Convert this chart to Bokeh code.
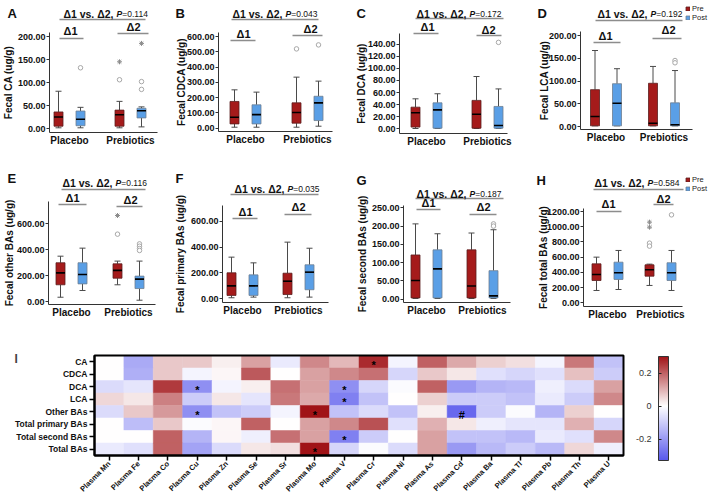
import math
import numpy as np
from bokeh.plotting import figure
from bokeh.layouts import row, column
from bokeh.models import (ColumnDataSource, FixedTicker, NumeralTickFormatter, Label, BoxAnnotation,
                          Legend, LegendItem, LinearColorMapper, Range1d)
from bokeh.transform import transform
from bokeh.core.properties import value
from bokeh.embed import file_html
from bokeh.resources import INLINE

FONT = "Liberation Sans"
RED = "#A51B1B"
BLUE = "#5A9FE6"

# ---------------- box-plot data ----------------
# each box: (whisker_low, q1, median, q3, whisker_high)
# order: Placebo-Pre, Placebo-Post, Prebiotics-Pre, Prebiotics-Post
groups = ["Placebo", "Prebiotics"]
phases = ["Pre", "Post"]

ca_box = [(1.5, 5, 25, 36, 81), (1.5, 6, 20, 38, 46), (1.5, 5, 30, 40, 59), (3.5, 23, 38.5, 44, 47)]
ca_out = [(1, 132, "o"), (2, 145, "*"), (2, 106, "o"), (3, 185, "*"), (3, 102, "o"), (3, 85, "o")]
cdca_box = [(6.5, 28, 72, 175, 251), (6.5, 28, 89, 153, 236), (6.5, 33, 103, 166, 334), (13, 50, 166, 209, 308)]
cdca_out = [(2, 519, "o"), (3, 545, "o")]
dca_box = [(0.5, 2.8, 26.5, 35.8, 49.6), (0.5, 1, 31.4, 43, 58), (0.5, 1, 24, 47, 86.5), (0.5, 1, 5.5, 37, 66)]
dca_out = [(3, 143, "o")]
lca_box = [(1.5, 1.5, 22, 81, 167), (1.5, 1.5, 51, 94, 127), (1.5, 1.5, 7, 95, 132), (1.5, 1.5, 3.7, 52, 123)]
lca_out = [(3, 145, "o"), (3, 140, "o")]
oth_box = [(33, 129, 221, 299, 350), (85, 136, 209, 299, 412), (129, 180, 240, 291, 312), (10, 100, 173, 196, 312)]
oth_out = [(2, 664, "*"), (2, 520, "o"), (3, 445, "o"), (3, 427, "o"), (3, 409, "o"), (3, 394, "o")]
pri_box = [(8, 26, 100, 201, 322), (13, 26, 100, 185, 278), (8, 33, 136, 198, 438), (13, 70, 206, 263, 391)]
pri_out = []
sec_box = [(2, 3.6, 51, 121, 206), (2, 3.6, 83, 135, 179), (2, 3.6, 36, 135, 181), (2, 3.6, 9, 78, 190)]
sec_out = [(3, 206, "o"), (3, 200, "o")]
tot_box = [(162, 293, 372, 512, 600), (175, 307, 394, 534, 688), (228, 350, 434, 499, 508), (162, 293, 394, 526, 688)]
tot_out = [(2, 1060, "*"), (2, 994, "*"), (2, 784, "o"), (2, 745, "o"), (3, 1156, "o")]

p_values = ["0.114", "0.043", "0.172", "0.192", "0.116", "0.035", "0.187", "0.584"]
y_labels = ["Fecal CA (ug/g)", "Fecal CDCA (ug/g)", "Fecal DCA (ug/g)", "Fecal LCA (ug/g)",
            "Fecal other BAs (ug/g)", "Fecal primary BAs (ug/g)", "Fecal second BAs (ug/g)",
            "Fecal total BAs (ug/g)"]
y_ticks = [[0, 50, 100, 150, 200], [0, 100, 200, 300, 400, 500, 600], [0, 20, 40, 60, 80, 100, 120, 140],
           [0, 50, 100, 150, 200], [0, 200, 400, 600], [0, 200, 400, 600], [0, 50, 100, 150, 200, 250],
           [0, 200, 400, 600, 800, 1000, 1200]]
letters = ["A", "B", "C", "D", "E", "F", "G", "H"]

# ---------------- heatmap data ----------------
metals = ["Mn", "Fe", "Co", "Cu", "Zn", "Se", "Sr", "Mo", "V", "Cr", "Ni", "As", "Cd", "Ba", "Tl", "Pb", "Th", "U"]
bile_acids = ["CA", "CDCA", "DCA", "LCA", "Other BAs", "Total primary BAs", "Total second BAs", "Total BAs"]
r_ca = [0.00, -0.17, 0.07, 0.07, 0.02, 0.12, -0.04, 0.15, 0.09, 0.27, -0.02, 0.20, 0.11, 0.06, 0.04, -0.02, 0.17, -0.12]
r_cdca = [0.00, -0.16, 0.07, -0.02, 0.01, 0.21, 0.00, 0.12, 0.15, 0.18, -0.08, 0.07, 0.03, -0.06, -0.08, -0.06, 0.08, -0.10]
r_dca = [-0.07, -0.05, 0.25, -0.22, -0.02, 0.02, 0.18, 0.12, -0.22, -0.08, -0.01, 0.20, -0.20, -0.15, -0.14, -0.03, -0.07, 0.12]
r_lca = [0.05, 0.03, 0.16, -0.10, 0.03, -0.05, 0.17, 0.11, -0.25, -0.12, 0.00, 0.06, -0.10, -0.10, -0.12, -0.04, -0.10, 0.15]
r_other = [-0.07, 0.07, 0.13, -0.22, -0.12, -0.10, -0.02, 0.32, -0.12, -0.07, -0.12, 0.02, -0.30, -0.10, -0.01, -0.15, 0.06, 0.00]
r_tprim = [0.00, -0.13, 0.07, -0.01, 0.01, 0.20, 0.00, 0.12, 0.15, 0.22, -0.06, 0.10, 0.03, -0.03, -0.05, -0.05, 0.10, -0.08]
r_tsec = [0.00, 0.00, 0.20, -0.15, 0.01, -0.03, 0.18, 0.12, -0.25, -0.10, 0.00, 0.12, -0.12, -0.12, -0.14, -0.04, -0.06, 0.15]
r_total = [-0.04, -0.06, 0.20, -0.18, -0.07, 0.03, 0.04, 0.32, -0.08, -0.01, -0.07, 0.12, -0.20, -0.14, -0.10, -0.14, 0.05, -0.03]
heat_rows = [r_ca, r_cdca, r_dca, r_lca, r_other, r_tprim, r_tsec, r_total]
sig_rows = ["CA", "DCA", "DCA", "LCA", "Other BAs", "Other BAs", "Other BAs", "Total second BAs", "Total BAs"]
sig_cols = ["Cr", "Cu", "V", "V", "Cu", "Mo", "Cd", "V", "Mo"]
sig_marks = ["*", "*", "*", "*", "*", "*", "#", "*", "*"]
cb_low, cb_high = -0.33, 0.30
cb_ticks = [-0.2, 0, 0.2]

# ---------------- layout geometry (page pixels, origin top-left of page) ----------------
R1, R2, R3 = (0, 165), (165, 157), (322, 174)
COLS = [(0, 172), (172, 180), (352, 178), (530, 180)]
G = [
    dict(fig=(COLS[0], R1), ax=49, right=157, bottom=132, top=32, y0=128, tpx=36, tval=200, plac=69, preb=130,
         xp=116, ty=13, tl=(59, 145, 19), d1=(70, 30), d1l=(59, 83, 38), d2=(133, 26), d2l=(117, 148, 33),
         let=(7, 5), ylx=2),
    dict(fig=(COLS[1], R1), ax=218, right=332, bottom=131, top=32, y0=127.7, tpx=36, tval=600, plac=245, preb=307,
         xp=285, ty=13, tl=(231, 318, 19), d1=(243, 33), d1l=(230, 255, 40), d2=(310, 28), d2l=(292, 322, 35),
         let=(175, 5), ylx=175),
    dict(fig=(COLS[2], R1), ax=399, right=507, bottom=133, top=33, y0=128.3, tpx=43.7, tval=140, plac=426, preb=487,
         xp=469, ty=13, tl=(415, 503, 18), d1=(427, 26), d1l=(413, 438, 33), d2=(488, 29), d2l=(476, 501, 35),
         let=(356, 5), ylx=355),
    dict(fig=(COLS[3], R1), ax=580, right=692, bottom=129, top=31, y0=126, tpx=35, tval=200, plac=605.5, preb=663.5,
         xp=650, ty=13, tl=(595, 682, 20), d1=(605, 35), d1l=(593, 620, 42), d2=(668, 29), d2l=(652, 681, 38),
         let=(537, 5), ylx=538, leg=(685, 22)),
    dict(fig=(COLS[0], R2), ax=48, right=155, bottom=304, top=201, y0=301, tpx=223.3, tval=600, plac=71, preb=128,
         xp=115, ty=182, tl=(61, 145, 189), d1=(72, 197), d1l=(58, 86, 204), d2=(130, 199), d2l=(116, 142, 206),
         let=(7, 170), ylx=3),
    dict(fig=(COLS[1], R2), ax=222, right=328, bottom=302, top=205, y0=298.3, tpx=220.7, tval=600, plac=242, preb=298,
         xp=287, ty=188, tl=(230, 318, 194), d1=(245, 211), d1l=(232, 257, 218), d2=(298, 206), d2l=(284, 311, 214),
         let=(175, 170), ylx=174),
    dict(fig=(COLS[2], R2), ax=403, right=510, bottom=302, top=205, y0=298.7, tpx=207.3, tval=250, plac=426, preb=482,
         xp=469, ty=193, tl=(415, 503, 198), d1=(428, 202), d1l=(416, 440, 209), d2=(483, 206), d2l=(469, 496, 214),
         let=(356, 172), ylx=356),
    dict(fig=(COLS[3], R2), ax=583, right=682, bottom=306, top=208, y0=302.3, tpx=211, tval=1200, plac=607, preb=660,
         xp=647, ty=182, tl=(593, 683, 189), d1=(608, 203), d1l=(596, 621, 211), d2=(663, 198), d2l=(653, 673, 204),
         let=(536, 172), ylx=537, leg=(685, 193)),
]
# heatmap cell block and colour bar on the page
HM = dict(fig=(0, 634), left=94, right=623, top=355, bottom=455, let=(14, 351))
CB = dict(fig=(634, 76), left=658, right=668, top=356, bottom=460)


def make_panel(box, outs, pval, ylabel, ticks, letter, g):
    (fx, fw), (fy, fh) = g["fig"]
    ax, right, bottom, top = g["ax"], g["right"], g["bottom"], g["top"]
    plac, preb = g["plac"], g["preb"]
    kx = preb - plac
    ky = (g["y0"] - g["tpx"]) / g["tval"]

    def X(px):
        return 1 + (px - plac) / kx

    def Y(py):
        return (g["y0"] - py) / ky

    p = figure(width=fw, height=fh, x_range=Range1d(X(fx), X(fx + fw)), y_range=Range1d(Y(fy + fh), Y(fy)),
               output_backend="svg", toolbar_location=None, min_border=0, outline_line_color=None)
    p.grid.visible = False
    p.background_fill_color = "white"
    p.border_fill_color = "white"

    dodge, bw, cap = 11 / kx, 9 / kx, 3 / kx
    centers = [1 - dodge, 1 + dodge, 2 - dodge, 2 + dodge]
    wlo, q1, med, q3, whi = [list(v) for v in zip(*box)]
    src = ColumnDataSource(dict(x=centers, wlo=wlo, q1=q1, med=med, q3=q3, whi=whi,
                                cl=[c - cap for c in centers], cr=[c + cap for c in centers],
                                ml=[c - bw / 2 for c in centers], mr=[c + bw / 2 for c in centers]))
    wc = "#4a4a4a"
    p.segment(x0="x", y0="wlo", x1="x", y1="q1", source=src, line_color=wc, line_width=1)
    p.segment(x0="x", y0="q3", x1="x", y1="whi", source=src, line_color=wc, line_width=1)
    p.segment(x0="cl", y0="wlo", x1="cr", y1="wlo", source=src, line_color=wc, line_width=1)
    p.segment(x0="cl", y0="whi", x1="cr", y1="whi", source=src, line_color=wc, line_width=1)

    pre = ColumnDataSource(dict(x=[centers[0], centers[2]], b=[q1[0], q1[2]], t=[q3[0], q3[2]]))
    post = ColumnDataSource(dict(x=[centers[1], centers[3]], b=[q1[1], q1[3]], t=[q3[1], q3[3]]))
    r_pre = p.vbar(x="x", bottom="b", top="t", width=bw, source=pre, fill_color=RED,
                   line_color="#5a2020", line_width=0.8)
    r_post = p.vbar(x="x", bottom="b", top="t", width=bw, source=post, fill_color=BLUE,
                    line_color="#6f7f90", line_width=0.8)
    p.segment(x0="ml", y0="med", x1="mr", y1="med", source=src, line_color="black", line_width=1.6)

    ox = [centers[o[0]] for o in outs if o[2] == "o"]
    oy = [o[1] for o in outs if o[2] == "o"]
    sx = [centers[o[0]] for o in outs if o[2] == "*"]
    sy = [o[1] for o in outs if o[2] == "*"]
    if ox:
        p.scatter(ox, oy, marker="circle", size=4.5, fill_color="white", line_color="#a8a8a8", line_width=1)
    if sx:
        p.scatter(sx, sy, marker="asterisk", size=5, line_color="#8c8c8c", line_width=1)

    # underlines of the comparison labels
    lines = [g["tl"], g["d1l"], g["d2l"]]
    lsrc = ColumnDataSource(dict(x0=[X(l[0]) for l in lines], x1=[X(l[1]) for l in lines],
                                 y=[Y(l[2]) for l in lines]))
    p.segment(x0="x0", y0="y", x1="x1", y1="y", source=lsrc, line_color="#8d8d8d", line_width=1.6)

    def lab(text, px, py, size, style="bold", align="center", baseline="middle", angle=0, color="#111111"):
        p.add_layout(Label(x=px - fx, y=fy + fh - py, x_units="screen", y_units="screen", text=text,
                           text_font=FONT, text_font_size=f"{size}px", text_font_style=style,
                           text_align=align, text_baseline=baseline, angle=angle, text_color=color))

    lab("\u03941 vs. \u03942,", g["xp"] - 3, g["ty"], 10.5, "bold", "right")
    lab("P", g["xp"], g["ty"] + 0.5, 8.5, "bold italic", "left")
    lab("=" + pval, g["xp"] + 5.8, g["ty"] + 0.5, 8.5, "normal", "left")
    lab("\u03941", g["d1"][0], g["d1"][1], 11, "bold")
    lab("\u03942", g["d2"][0], g["d2"][1], 11, "bold")
    lab(letter, g["let"][0], g["let"][1], 13, "bold", "left", "top")
    lab(ylabel, g["ylx"], (top + bottom) / 2, 10, "bold", baseline="top", angle=math.pi / 2)

    p.xaxis.fixed_location = Y(bottom)
    p.xaxis.ticker = FixedTicker(ticks=[1, 2])
    p.xaxis.major_label_overrides = {1: groups[0], 2: groups[1]}
    p.xaxis.bounds = (X(ax), X(right))
    p.xaxis.major_tick_line_color = None
    p.xaxis.major_tick_out = 0
    p.xaxis.minor_tick_line_color = None
    p.xaxis.major_label_text_font = FONT
    p.xaxis.major_label_text_font_size = "10px"
    p.xaxis.major_label_text_font_style = "bold"
    p.xaxis.major_label_text_color = "#111111"
    p.xaxis.major_label_standoff = 2
    p.xaxis.axis_line_color = "#333333"

    p.yaxis.fixed_location = X(ax)
    p.yaxis.ticker = FixedTicker(ticks=ticks)
    p.yaxis.formatter = NumeralTickFormatter(format="0.00")
    p.yaxis.bounds = (Y(bottom), Y(top))
    p.yaxis.major_tick_out = 3
    p.yaxis.major_tick_in = 0
    p.yaxis.major_tick_line_color = "#333333"
    p.yaxis.minor_tick_line_color = None
    p.yaxis.major_label_text_font = FONT
    p.yaxis.major_label_text_font_size = "9px"
    p.yaxis.major_label_text_font_style = "bold"
    p.yaxis.major_label_text_color = "#111111"
    p.yaxis.major_label_standoff = 1
    p.yaxis.axis_line_color = "#333333"

    if "leg" in g:
        lx, ly = g["leg"]
        leg = Legend(items=[LegendItem(label=phases[0], renderers=[r_pre]),
                            LegendItem(label=phases[1], renderers=[r_post])],
                     location=(lx - fx, fy + fh - ly), glyph_width=5, glyph_height=5, label_height=7,
                     label_width=10, spacing=0, padding=0, margin=0, label_standoff=2,
                     label_text_font=FONT, label_text_font_size="7.5px", label_text_color="#222222",
                     border_line_color=None, background_fill_alpha=0)
        p.add_layout(leg)
    return p


boxes = [ca_box, cdca_box, dca_box, lca_box, oth_box, pri_box, sec_box, tot_box]
outs = [ca_out, cdca_out, dca_out, lca_out, oth_out, pri_out, sec_out, tot_out]
panels = [make_panel(boxes[i], outs[i], p_values[i], y_labels[i], y_ticks[i], letters[i], G[i]) for i in range(8)]

# ---------------- heatmap ----------------
def blend(c1, c2, t):
    return "#%02x%02x%02x" % tuple(int(round(a + (b - a) * t)) for a, b in zip(c1, c2))

BLUE_END, WHITE, RED_END = (88, 88, 236), (255, 255, 255), (160, 18, 22)
palette = []
for i in range(256):
    v = cb_low + (cb_high - cb_low) * (i + 0.5) / 256
    palette.append(blend(WHITE, BLUE_END, v / cb_low) if v < 0 else blend(WHITE, RED_END, v / cb_high))
mapper = LinearColorMapper(palette=palette, low=cb_low, high=cb_high)

n_col, n_row = len(metals), len(bile_acids)
row_pos = {ba: n_row - 1 - k for k, ba in enumerate(bile_acids)}   # CA on top
col_pos = {m: i for i, m in enumerate(metals)}
hx, hy, hv = [], [], []
for ba, vals in zip(bile_acids, heat_rows):
    for m, v in zip(metals, vals):
        hx.append(col_pos[m])
        hy.append(row_pos[ba])
        hv.append(v)
hsrc = ColumnDataSource(dict(x=hx, y=hy, v=hv))

HFY, HH = R3
hfx, hfw = HM["fig"]
hkx = (HM["right"] - HM["left"]) / n_col
hky = (HM["bottom"] - HM["top"]) / n_row


def HX(px):
    return -0.5 + (px - HM["left"]) / hkx


def HY(py):
    return -0.5 + (HM["bottom"] - py) / hky


hp = figure(width=hfw, height=HH, x_range=Range1d(HX(hfx), HX(hfx + hfw)),
            y_range=Range1d(HY(HFY + HH), HY(HFY)), output_backend="svg", toolbar_location=None,
            min_border=0, outline_line_color=None)
hp.rect(x="x", y="y", width=1, height=1, source=hsrc, fill_color=transform("v", mapper),
        line_color=transform("v", mapper), line_width=0.5)
ssrc = ColumnDataSource(dict(x=[col_pos[c] for c in sig_cols], y=[row_pos[r] for r in sig_rows], t=sig_marks))
hp.text(x="x", y="y", text="t", source=ssrc, text_align="center", text_baseline="middle", y_offset=3,
        text_font=value(FONT), text_font_size="11px", text_font_style="bold", text_color="black")
hp.add_layout(BoxAnnotation(left=-0.5, right=n_col - 0.5, bottom=-0.5, top=n_row - 0.5, fill_alpha=0,
                            line_color="black", line_width=2, line_alpha=1))
hp.grid.visible = False
hp.xaxis.fixed_location = -0.5
hp.yaxis.fixed_location = -0.5
hp.xaxis.bounds = (-0.5, n_col - 0.5)
hp.yaxis.bounds = (-0.5, n_row - 0.5)
hp.xaxis.ticker = FixedTicker(ticks=list(range(n_col)))
hp.yaxis.ticker = FixedTicker(ticks=list(range(n_row)))
hp.xaxis.major_label_overrides = {col_pos[m]: "Plasma " + m for m in metals}
hp.yaxis.major_label_overrides = {row_pos[b]: b for b in bile_acids}
for a in (hp.xaxis[0], hp.yaxis[0]):
    a.axis_line_color = "black"
    a.axis_line_width = 2
    a.major_tick_out = 5
    a.major_tick_in = 0
    a.minor_tick_line_color = None
    a.major_tick_line_width = 1.5
    a.major_tick_line_color = "black"
    a.major_label_text_font = FONT
    a.major_label_text_font_style = "bold"
    a.major_label_text_color = "#111111"
    a.major_label_standoff = 2
hp.yaxis.major_label_text_font_size = "8.5px"
hp.xaxis.major_label_text_font_size = "7.5px"
hp.xaxis.major_label_orientation = math.pi / 4
hp.add_layout(Label(x=HM["let"][0] - hfx, y=HFY + HH - HM["let"][1], x_units="screen", y_units="screen",
                    text="I", text_font=FONT, text_font_size="12px", text_font_style="bold",
                    text_baseline="top"))

# ---------------- colour bar (frame = whole figure, like the other panels) ----------------
cfx, cfw = CB["fig"]
ckx = CB["right"] - CB["left"]
cky = (CB["bottom"] - CB["top"]) / (cb_high - cb_low)


def CX(px):
    return (px - CB["left"]) / ckx


def CY(py):
    return cb_low + (CB["bottom"] - py) / cky


cb = figure(width=cfw, height=HH, x_range=Range1d(CX(cfx), CX(cfx + cfw)),
            y_range=Range1d(CY(HFY + HH), CY(HFY)), output_backend="svg", toolbar_location=None,
            x_axis_location=None, min_border=0, outline_line_color=None)
grad = np.linspace(cb_low, cb_high, 256).reshape(-1, 1)
cb.image(image=[grad], x=0, y=cb_low, dw=1, dh=cb_high - cb_low, color_mapper=mapper)
cb.add_layout(BoxAnnotation(left=0, right=1, bottom=cb_low, top=cb_high, fill_alpha=0,
                            line_color="#333333", line_width=1, line_alpha=1))
cb.grid.visible = False
cb.yaxis.fixed_location = 0
cb.yaxis.bounds = (cb_low, cb_high)
cb.yaxis.ticker = FixedTicker(ticks=cb_ticks)
cb.yaxis.formatter = NumeralTickFormatter(format="0.[0]")
cb.yaxis.axis_line_color = None
cb.yaxis.major_tick_in = 3
cb.yaxis.major_tick_out = 0
cb.yaxis.major_tick_line_color = "#222222"
cb.yaxis.minor_tick_line_color = None
cb.yaxis.major_label_standoff = 7
cb.yaxis.major_label_text_font = FONT
cb.yaxis.major_label_text_font_size = "9px"
cb.yaxis.major_label_text_color = "#333333"

layout = column(row(*panels[:4]), row(*panels[4:]), row(hp, cb))
open("out.html", "w").write(file_html(layout, INLINE))
